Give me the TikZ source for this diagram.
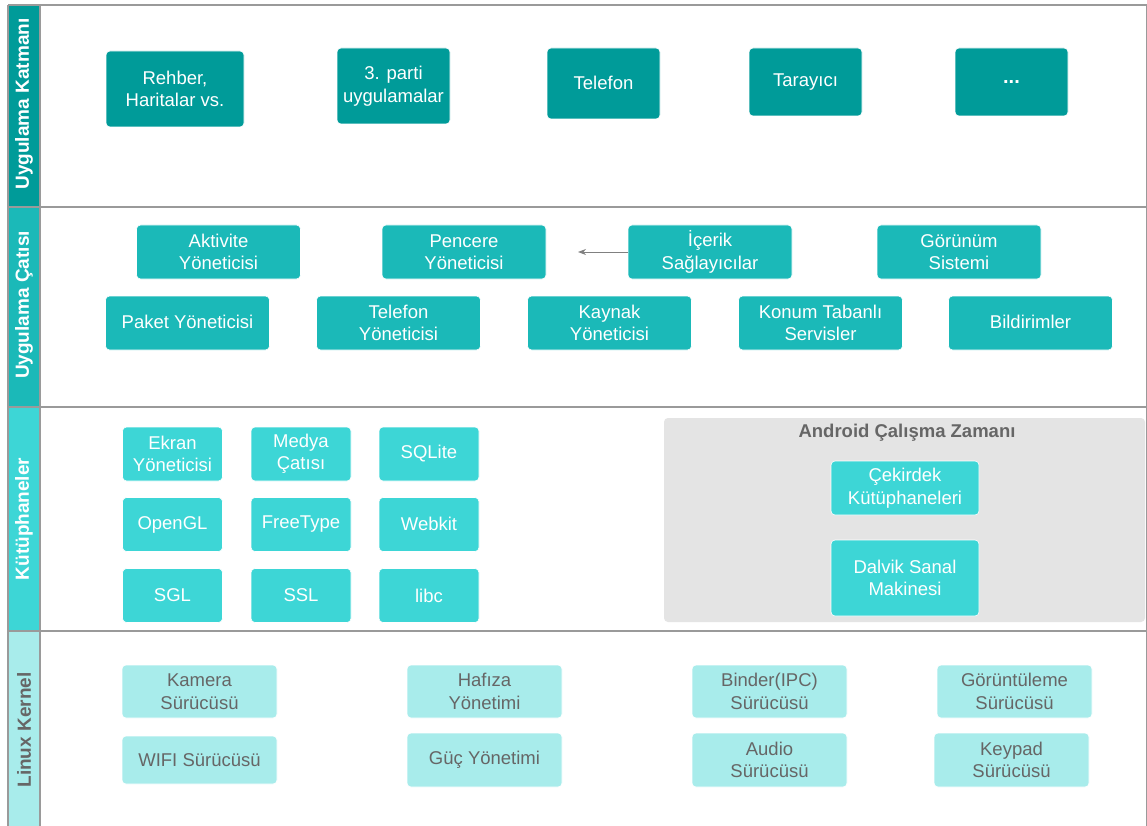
\documentclass[tikz,border=0pt]{standalone}
\usepackage{fontspec}
\setmainfont{Liberation Sans}
\usetikzlibrary{arrows.meta}
\definecolor{cA}{HTML}{009B99}
\definecolor{cB}{HTML}{1BB9B8}
\definecolor{cC}{HTML}{3DD6D6}
\definecolor{cD}{HTML}{A8ECEB}
\definecolor{panelgray}{HTML}{E4E4E4}
\definecolor{txtgray}{HTML}{666666}
\definecolor{linegray}{HTML}{9A9A9A}
\tikzset{
  box/.style={rounded corners=4pt, draw=white, line width=0.6pt, align=center, inner sep=0pt,
    font=\fontsize{18.5}{22.5}\selectfont, text=white},
  boxA/.style={box, fill=cA},
  boxB/.style={box, fill=cB, minimum width=164pt, minimum height=54pt},
  boxC/.style={box, fill=cC, minimum width=100pt, minimum height=54pt},
  boxD/.style={box, fill=cD, text=txtgray, minimum width=155pt},
  layerlbl/.style={rotate=90, font=\bfseries\fontsize{19}{22}\selectfont, text=white},
  sep/.style={draw=linegray, line width=1.3pt},
}
\begin{document}
\begin{tikzpicture}[x=1pt,y=-1pt]
\useasboundingbox (0,0) rectangle (1147,826);
\fill[white] (0,0) rectangle (1147,826);
% left strips
\fill[cA] (8,5) rectangle (40,207);
\fill[cB] (8,207) rectangle (40,407);
\fill[cC] (8,407) rectangle (40,631);
\fill[cD] (8,631) rectangle (40,826);
\draw[sep] (8,5) -- (1147,5);
\draw[sep] (8,207) -- (1147,207);
\draw[sep] (8,407) -- (1147,407);
\draw[sep] (8,631) -- (1147,631);
\draw[sep] (8,5) -- (8,826);
\draw[sep] (40,5) -- (40,826);
\draw[draw=linegray, line width=0.8pt] (1146,5) -- (1146,826);
\node[layerlbl] (l1) at (24,104) {Uygulama Katmanı};
\node[layerlbl] (l2) at (24,305) {Uygulama Çatısı};
\node[layerlbl] (l3) at (24,519) {Kütüphaneler};
\node[layerlbl, text=txtgray] (l4) at (24,730) {Linux Kernel};

% Band 1
\node[boxA, minimum width=138pt, minimum height=76pt] (reh) at (175,89) {Rehber,\\Haritalar vs.};
\node[boxA, minimum width=113pt, minimum height=76pt] (ucp) at (393.5,86) {3. parti\\uygulamalar};
\node[boxA, minimum width=113pt, minimum height=71pt] (tel) at (603.5,83.5) {\raisebox{2pt}{Telefon}};
\node[boxA, minimum width=113pt, minimum height=68pt] (tar) at (805.5,82) {\raisebox{2pt}{Tarayıcı}};
\node[boxA, minimum width=113pt, minimum height=68pt, font=\bfseries\fontsize{20}{22}\selectfont] (dots) at (1011.5,82) {...};

% Band 2
\node[boxB] (akt) at (218.5,252) {Aktivite\\Yöneticisi};
\node[boxB] (pen) at (464,252) {Pencere\\Yöneticisi};
\node[boxB] (ice) at (710,252) {İçerik\\Sağlayıcılar};
\node[boxB] (gor) at (959,252) {Görünüm\\Sistemi};
\node[boxB] (pak) at (187.5,323) {\raisebox{2pt}{Paket Yöneticisi}};
\node[boxB] (tly) at (398.5,323) {Telefon\\Yöneticisi};
\node[boxB] (kay) at (609.5,323) {Kaynak\\Yöneticisi};
\node[boxB] (kon) at (820.5,323) {Konum Tabanlı\\Servisler};
\node[boxB] (bil) at (1030.5,323) {\raisebox{2pt}{Bildirimler}};
\coordinate (arrEnd) at (578,252);
\draw[draw=gray, line width=0.8pt, -{Stealth[length=8pt,width=6pt]}] (ice.west) -- (arrEnd);

% Band 3
\node[boxC] (ekr) at (172.5,454) {Ekran\\Yöneticisi};
\node[boxC] (med) at (301,454) {Medya\\Çatısı};
\node[boxC] (sql) at (429,454) {SQLite};
\node[boxC] (ogl) at (172.5,524.5) {\raisebox{2pt}{OpenGL}};
\node[boxC] (ft) at (301,524.5) {FreeType};
\node[boxC] (wk) at (429,524.5) {\raisebox{2pt}{Webkit}};
\node[boxC] (sgl) at (172.5,595.5) {SGL};
\node[boxC] (ssl) at (301,595.5) {SSL};
\node[boxC] (libc) at (429,595.5) {libc};
\fill[panelgray, rounded corners=4pt] (664,418) rectangle (1145,622);
\node[font=\bfseries\fontsize{18.5}{20}\selectfont, text=txtgray] (art) at (907,433) {Android Çalışma Zamanı};
\node[boxC, minimum width=148pt, minimum height=54pt] (cek) at (905,488) {Çekirdek\\Kütüphaneleri};
\node[boxC, minimum width=148pt, minimum height=76pt] (dal) at (905,578) {Dalvik Sanal\\Makinesi};

% Band 4
\node[boxD, minimum height=53pt] (kam) at (199.5,691.5) {Kamera\\Sürücüsü};
\node[boxD, minimum height=48pt] (wifi) at (199.5,760) {WIFI Sürücüsü};
\node[boxD, minimum height=53pt] (haf) at (484.5,691.5) {Hafıza\\Yönetimi};
\node[boxD, minimum height=54pt] (guc) at (484.5,760) {\raisebox{2pt}{Güç Yönetimi}};
\node[boxD, minimum height=53pt] (bin) at (769.5,691.5) {Binder(IPC)\\Sürücüsü};
\node[boxD, minimum height=54pt] (aud) at (769.5,760) {Audio\\Sürücüsü};
\node[boxD, minimum height=53pt] (gru) at (1014.5,691.5) {Görüntüleme\\Sürücüsü};
\node[boxD, minimum height=54pt] (key) at (1011.5,760) {Keypad\\Sürücüsü};
\end{tikzpicture}
\end{document}
